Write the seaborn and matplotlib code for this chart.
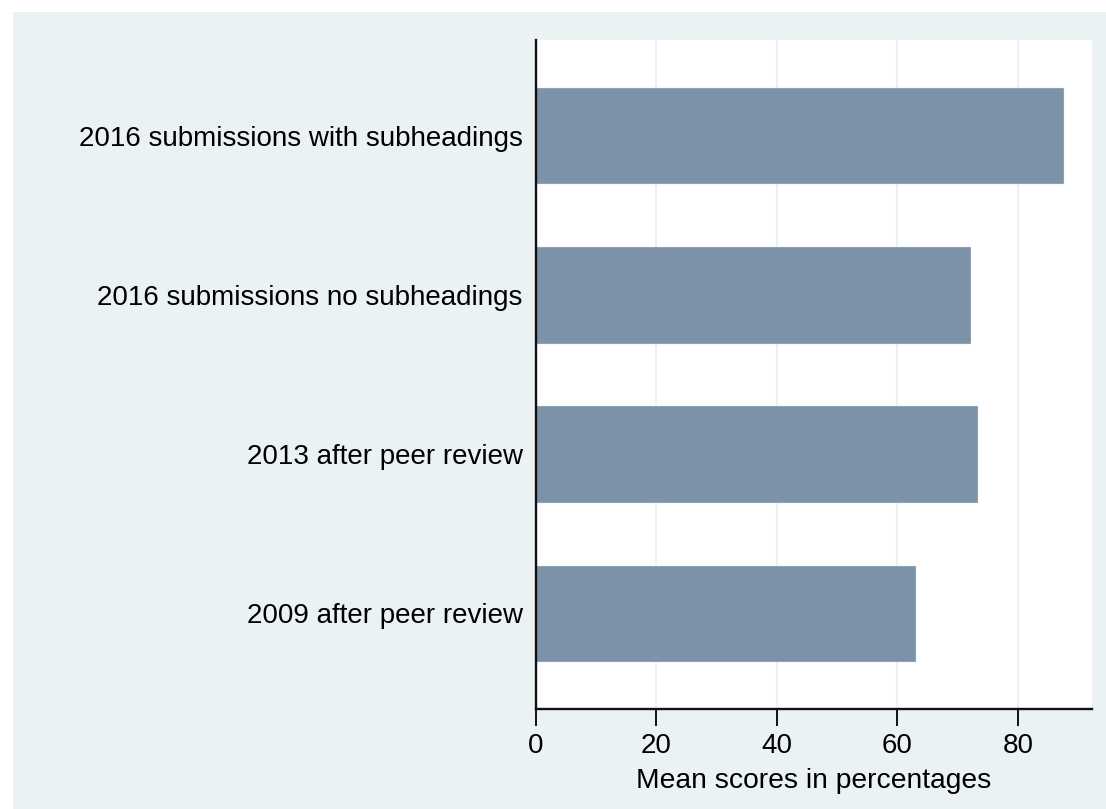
import matplotlib
matplotlib.use("Agg")
import matplotlib.pyplot as plt
import pandas as pd
import seaborn as sns
from matplotlib.patches import Rectangle

groups = ["2016 submissions with subheadings",
          "2016 submissions no subheadings",
          "2013 after peer review",
          "2009 after peer review"]
mean_scores = [87.5, 72.0, 73.2, 62.9]
xticks = [0, 20, 40, 60, 80]

df = pd.DataFrame({"group": groups, "score": mean_scores})

sns.set_theme(style="white")
plt.rcParams["font.family"] = ["Liberation Sans", "DejaVu Sans"]

bg = "#EAF2F3"
bar_color = "#7B92A8"

fig = plt.figure(figsize=(11.06, 8.09), dpi=100)
fig.patch.set_facecolor("white")
# stata-like graph region
fig.patches.append(Rectangle((13 / 1106, 0), 1 - 13 / 1106, 1 - 12 / 809,
                             transform=fig.transFigure, facecolor=bg,
                             edgecolor="none", zorder=-10))

ax = fig.add_axes([536 / 1106, 1 - 709 / 809, (1092 - 536) / 1106, (709 - 40) / 809])
ax.set_facecolor("white")

sns.barplot(data=df, x="score", y="group", orient="h", color=bar_color,
            saturation=1, width=0.6, edgecolor="#8fa3b6", linewidth=0.8, ax=ax)

ax.set_xlim(0, 92.3)
ax.set_ylim(3.6, -0.6)
ax.set_xticks(xticks)
ax.set_xticklabels([str(t) for t in xticks])

for t in xticks[1:]:
    ax.axvline(t, color=bg, lw=1.5, zorder=0)

for side in ["top", "right"]:
    ax.spines[side].set_visible(False)
for side in ["left", "bottom"]:
    ax.spines[side].set_color("#111111")
    ax.spines[side].set_linewidth(1.7)

ax.tick_params(axis="x", bottom=True, length=12, width=1.4, color="#111111",
               labelsize=20, pad=5, labelcolor="black")
ax.tick_params(axis="y", left=False, length=0, labelsize=20, pad=9.5, labelcolor="black")
ax.set_ylabel("")
ax.set_xlabel("Mean scores in percentages", fontsize=20.3, labelpad=7, color="black")

fig.savefig("out.png", dpi=100)
